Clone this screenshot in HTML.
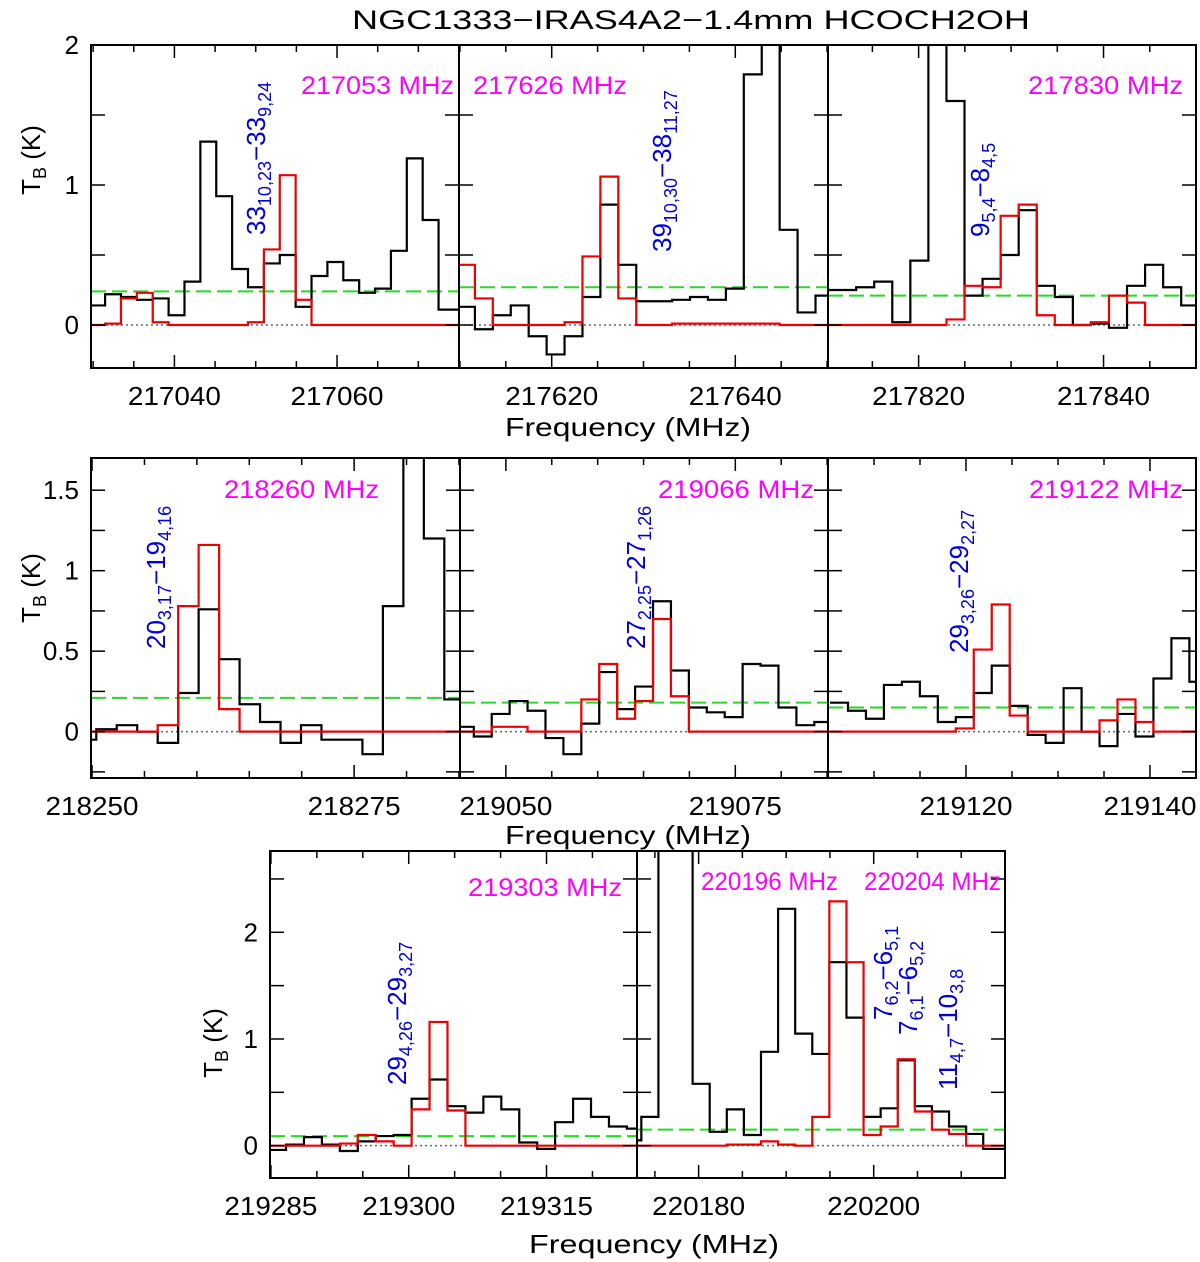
<!DOCTYPE html>
<html><head><meta charset="utf-8"><style>
html,body{margin:0;padding:0;background:#fff;}
svg{display:block;font-family:"Liberation Sans",sans-serif;}
</style></head><body>
<svg id="chart" width="1200" height="1262" viewBox="0 0 1200 1262" xmlns="http://www.w3.org/2000/svg">
<rect x="0" y="0" width="1200" height="1262" fill="#fff"/>
<text x="352" y="29" font-size="27" textLength="678" lengthAdjust="spacingAndGlyphs">NGC1333−IRAS4A2−1.4mm HCOCH2OH</text>
<text x="505" y="436" font-size="26" textLength="246" lengthAdjust="spacingAndGlyphs">Frequency (MHz)</text>
<text x="505" y="844" font-size="26" textLength="246" lengthAdjust="spacingAndGlyphs">Frequency (MHz)</text>
<text x="529" y="1253" font-size="26" textLength="250" lengthAdjust="spacingAndGlyphs">Frequency (MHz)</text>
<text transform="rotate(-90 40 160)" x="40" y="160" font-size="26" text-anchor="middle">T<tspan font-size="18" dy="6">B</tspan><tspan dy="-6"> (K)</tspan></text>
<text transform="rotate(-90 40 588)" x="40" y="588" font-size="26" text-anchor="middle">T<tspan font-size="18" dy="6">B</tspan><tspan dy="-6"> (K)</tspan></text>
<text transform="rotate(-90 222 1043)" x="222" y="1043" font-size="26" text-anchor="middle">T<tspan font-size="18" dy="6">B</tspan><tspan dy="-6"> (K)</tspan></text>
<g id="panels"></g>
<g id="labels" fill="#ff00ff" font-size="25">
<text x="301" y="94" textLength="153" lengthAdjust="spacingAndGlyphs">217053 MHz</text>
<text x="473" y="94" textLength="154" lengthAdjust="spacingAndGlyphs">217626 MHz</text>
<text x="1028" y="94" textLength="155" lengthAdjust="spacingAndGlyphs">217830 MHz</text>
<text x="224" y="498" textLength="155" lengthAdjust="spacingAndGlyphs">218260 MHz</text>
<text x="658" y="498" textLength="156" lengthAdjust="spacingAndGlyphs">219066 MHz</text>
<text x="1029" y="498" textLength="154" lengthAdjust="spacingAndGlyphs">219122 MHz</text>
<text x="468" y="896" textLength="154" lengthAdjust="spacingAndGlyphs">219303 MHz</text>
<text x="701" y="890" textLength="137" lengthAdjust="spacingAndGlyphs">220196 MHz</text>
<text x="864" y="890" textLength="137" lengthAdjust="spacingAndGlyphs">220204 MHz</text>
</g>
<g id="transitions" fill="#0000dd" font-size="26">
<text transform="rotate(-90 265 235)" x="265" y="235">33<tspan font-size="18" dy="6">10,23</tspan><tspan dy="-6">−33</tspan><tspan font-size="18" dy="6">9,24</tspan></text>
<text transform="rotate(-90 671 252)" x="671" y="252">39<tspan font-size="18" dy="6">10,30</tspan><tspan dy="-6">−38</tspan><tspan font-size="18" dy="6">11,27</tspan></text>
<text transform="rotate(-90 989 237)" x="989" y="237">9<tspan font-size="18" dy="6">5,4</tspan><tspan dy="-6">−8</tspan><tspan font-size="18" dy="6">4,5</tspan></text>
<text transform="rotate(-90 165 649)" x="165" y="649">20<tspan font-size="18" dy="6">3,17</tspan><tspan dy="-6">−19</tspan><tspan font-size="18" dy="6">4,16</tspan></text>
<text transform="rotate(-90 645 649)" x="645" y="649">27<tspan font-size="18" dy="6">2,25</tspan><tspan dy="-6">−27</tspan><tspan font-size="18" dy="6">1,26</tspan></text>
<text transform="rotate(-90 968 653)" x="968" y="653">29<tspan font-size="18" dy="6">3,26</tspan><tspan dy="-6">−29</tspan><tspan font-size="18" dy="6">2,27</tspan></text>
<text transform="rotate(-90 406 1085)" x="406" y="1085">29<tspan font-size="18" dy="6">4,26</tspan><tspan dy="-6">−29</tspan><tspan font-size="18" dy="6">3,27</tspan></text>
<text transform="rotate(-90 892 1020)" x="892" y="1020">7<tspan font-size="18" dy="6">6,2</tspan><tspan dy="-6">−6</tspan><tspan font-size="18" dy="6">5,1</tspan></text>
<text transform="rotate(-90 917 1035)" x="917" y="1035">7<tspan font-size="18" dy="6">6,1</tspan><tspan dy="-6">−6</tspan><tspan font-size="18" dy="6">5,2</tspan></text>
<text transform="rotate(-90 957 1090)" x="957" y="1090">11<tspan font-size="18" dy="6">4,7</tspan><tspan dy="-6">−10</tspan><tspan font-size="18" dy="6">3,8</tspan></text>
</g>
</svg>
<script>
// ---- data (K) per channel ----
const chanWidth = 1.953;
const p1Black = [0.14,0.22,0.20,0.18,0.19,0.07,0.31,1.31,0.92,0.40,0.27,0.44,0.50,0.13,0.35,0.45,0.32,0.23,0.26,0.53,1.19,0.75,0.11,0.11];
const p1Red   = [0,0.01,0.19,0.23,0.02,0,0,0,0,0,0.02,0.54,1.07,0.18,0,0,0,0,0,0,0,0,0,0];
const p2Black = [0.13,-0.03,0.07,0.14,-0.08,-0.21,-0.08,0.20,0.86,0.43,0.17,0.17,0.18,0.20,0.18,0.26,1.79,3.0,0.68,0.09,0.21];
const p2Red   = [0.43,0.19,0,0,0,0,0.02,0.49,1.06,0.19,0,0,0.01,0.01,0.01,0.01,0.01,0.01,0,0,0];
const p3Black = [0.25,0.25,0.27,0.31,0.02,0.46,3.0,1.6,0.21,0.33,0.50,0.82,0.28,0.20,0.0,0.01,-0.02,0.28,0.43,0.27,0.14];
const p3Red   = [0,0,0,0,0,0,0,0.04,0.28,0.27,0.78,0.86,0.07,0,0,0.02,0.21,0.16,0,0,0];
const p4Black = [-0.05,0.015,0.04,0.0,-0.07,0.24,0.76,0.45,0.17,0.06,-0.07,0.04,-0.05,-0.05,-0.14,0.78,3.0,1.2,0.2];
const p4Red   = [0,0,0,0,0.04,0.78,1.16,0.14,0,0,0,0,0,0,0,0,0,0,0];
const p5Black = [0.03,-0.03,0.11,0.19,0.13,-0.04,-0.14,0.05,0.37,0.14,0.28,0.81,0.38,0.15,0.12,0.09,0.42,0.41,0.15,0.04,0.06];
const p5Red   = [0,0,0.03,0.03,0,0,0,0.20,0.42,0.08,0.19,0.70,0.22,0,0,0,0,0,0,0,0];
const p6Black = [0.18,0.13,0.08,0.29,0.31,0.22,0.06,0.09,0.24,0.41,0.16,-0.02,-0.07,0.27,0.0,-0.09,0.11,-0.03,0.33,0.58,0.31];
const p6Red   = [0,0,0,0,0,0,0,0.02,0.51,0.79,0.10,0,0,0,0,0.07,0.20,0.06,0,0,0];
const p7Black = [-0.04,0.01,0.08,0.01,-0.05,0.04,0.09,0.10,0.44,0.62,0.37,0.31,0.46,0.34,0.03,-0.03,0.22,0.44,0.27,0.18,0.16];
const p7Red   = [0,0,0,0,0.02,0.10,0.04,0,0.34,1.16,0.33,0,0,0,0,0,0,0,0,0,0];
const p8Black = [0.05,0.27,3.0,3.0,0.58,0.13,0.34,0.10,0.88,2.22,1.05,0.86,1.72,1.20,0.27,0.35,0.80,0.37,0.32,0.18,0.11,-0.03,-0.03];
const p8Red   = [0,0,0,0,0,0,0.01,0.01,0.04,0.01,0,0.27,2.29,1.72,0.10,0.18,0.81,0.32,0.15,0.11,0,0,0];
const rmsLevels = [0.24,0.27,0.21,0.21,0.18,0.15,0.09,0.15];
const p1XTicks = [217040,217060]; const p2XTicks = [217620,217640]; const p3XTicks = [217820,217840];
const p4XTicks = [218250,218275]; const p5XTicks = [219050,219075]; const p6XTicks = [219120,219140];
const p7XTicks = [219285,219300,219315]; const p8XTicks = [220180,220200];
const row1YTicks = [0,1,2]; const row2YTicks = [0,0.5,1,1.5]; const row3YTicks = [0,1,2];

// ---- layout ----
const panels = [
 {name:'217053', box:[91,459,45,368], xd:[217029.74,217075.0], yd:[-0.307,2.0], f0:217029.52, black:p1Black, red:p1Red, ytick:0.5, major:p1XTicks, yl:row1YTicks},
 {name:'217626', box:[459,828,45,368], xd:[217609.9,217650.1], yd:[-0.307,2.0], f0:217609.68, black:p2Black, red:p2Red, ytick:0.5, major:p2XTicks},
 {name:'217830', box:[828,1196,45,368], xd:[217810.2,217850.0], yd:[-0.307,2.0], f0:217809.34, black:p3Black, red:p3Red, ytick:0.5, major:p3XTicks},
 {name:'218260', box:[91,460,458,778], xd:[218249.9,218285.1], yd:[-0.288,1.70], f0:218248.45, black:p4Black, red:p4Red, ytick:0.25, major:p4XTicks, yl:row2YTicks},
 {name:'219066', box:[460,828,458,778], xd:[219045.0,219085.1], yd:[-0.288,1.70], f0:219044.55, black:p5Black, red:p5Red, ytick:0.25, major:p5XTicks},
 {name:'219122', box:[828,1196,458,778], xd:[219105.0,219145.0], yd:[-0.288,1.70], f0:219105.22, black:p6Black, red:p6Red, ytick:0.25, major:p6XTicks},
 {name:'219303', box:[270,637,851,1178], xd:[219284.9,219324.85], yd:[-0.303,2.762], f0:219284.69, black:p7Black, red:p7Red, ytick:0.5, major:p7XTicks, yl:row3YTicks},
 {name:'220196', box:[637,1005,851,1178], xd:[220172.96,220215.0], yd:[-0.303,2.762], f0:220171.5, black:p8Black, red:p8Red, ytick:0.5, major:p8XTicks}
];
const NS = 'http://www.w3.org/2000/svg';
const root = document.getElementById('panels');
function mk(tag, attrs, parent){ const e=document.createElementNS(NS,tag); for(const k in attrs) e.setAttribute(k,attrs[k]); parent.appendChild(e); return e; }

panels.forEach((p,pi)=>{
  const [x0,x1,y0,y1]=p.box;
  const xs = f => x0 + (f-p.xd[0])/(p.xd[1]-p.xd[0])*(x1-x0);
  const ys = v => y1 - (v-p.yd[0])/(p.yd[1]-p.yd[0])*(y1-y0);
  const g = mk('g',{},root);
  
  
  const cid='clip'+pi;
  const cp = mk('clipPath',{id:cid},g);
  mk('rect',{x:x0,y:y0,width:x1-x0,height:y1-y0},cp);
  const inner = mk('g',{'clip-path':'url(#'+cid+')'},g);
  const zero = mk('line',{x1:x0,x2:x1,y1:ys(0),y2:ys(0),stroke:'#666','stroke-width':1.5,'stroke-dasharray':'2,3'},inner);
  
  
  const rms = mk('line',{x1:x0,x2:x1,y1:ys(rmsLevels[pi]),y2:ys(rmsLevels[pi]),stroke:'#22dd22','stroke-width':2,'stroke-dasharray':'15,6'},inner);
  
  
  function step(vals,color,nm){
    let d='';
    vals.forEach((v,i)=>{
      const a=xs(p.f0+i*chanWidth), b=xs(p.f0+(i+1)*chanWidth), y=ys(v);
      d += (i===0?'M'+a+','+y:'L'+a+','+y)+' L'+b+','+y+' ';
    });
    const path = mk('path',{d:d,fill:'none',stroke:color,'stroke-width':2.2,'stroke-linejoin':'miter'},inner);
    
    
  }
  step(p.black,'#000','observed-spectrum');
  step(p.red,'#ee0000','model-spectrum');
  const tg = mk('g',{stroke:'#000','stroke-width':1.5},g);
  
  
  const fstart=Math.ceil(p.xd[0]/5)*5;
  for(let f=fstart; f<=p.xd[1]; f+=5){
    const X=xs(f); const isMaj=p.major.some(m=>Math.abs(m-f)<0.01)||(p.major.length&&(f-p.major[0])%((p.major[1]-p.major[0]))===0);
    const L=isMaj?13:7;
    mk('line',{x1:X,x2:X,y1:y1,y2:y1-L},tg);
    mk('line',{x1:X,x2:X,y1:y0,y2:y0+L},tg);
  }
  for(let v=Math.ceil(p.yd[0]/p.ytick)*p.ytick; v<=p.yd[1]+1e-6; v+=p.ytick){
    const Y=ys(v);
    mk('line',{x1:x0,x2:x0+14,y1:Y,y2:Y},tg);
    mk('line',{x1:x1,x2:x1-14,y1:Y,y2:Y},tg);
  }
  p.major.forEach(f=>{
    const t = mk('text',{x:xs(f),y:y1+37,'font-size':26,'text-anchor':'middle',textLength:93,lengthAdjust:'spacingAndGlyphs'},g);
    
    
    t.textContent=String(f);
  });
  if(p.yl){
    p.yl.forEach(v=>{
      const t = mk('text',{x:x0-12,y:ys(v)+9,'font-size':26,'text-anchor':'end'},g);
      
      
      t.textContent=String(v);
    });
  }
  const border = mk('rect',{x:x0,y:y0,width:x1-x0,height:y1-y0,fill:'none',stroke:'#000','stroke-width':2},g);
  
  
});
</script>
</body></html>
